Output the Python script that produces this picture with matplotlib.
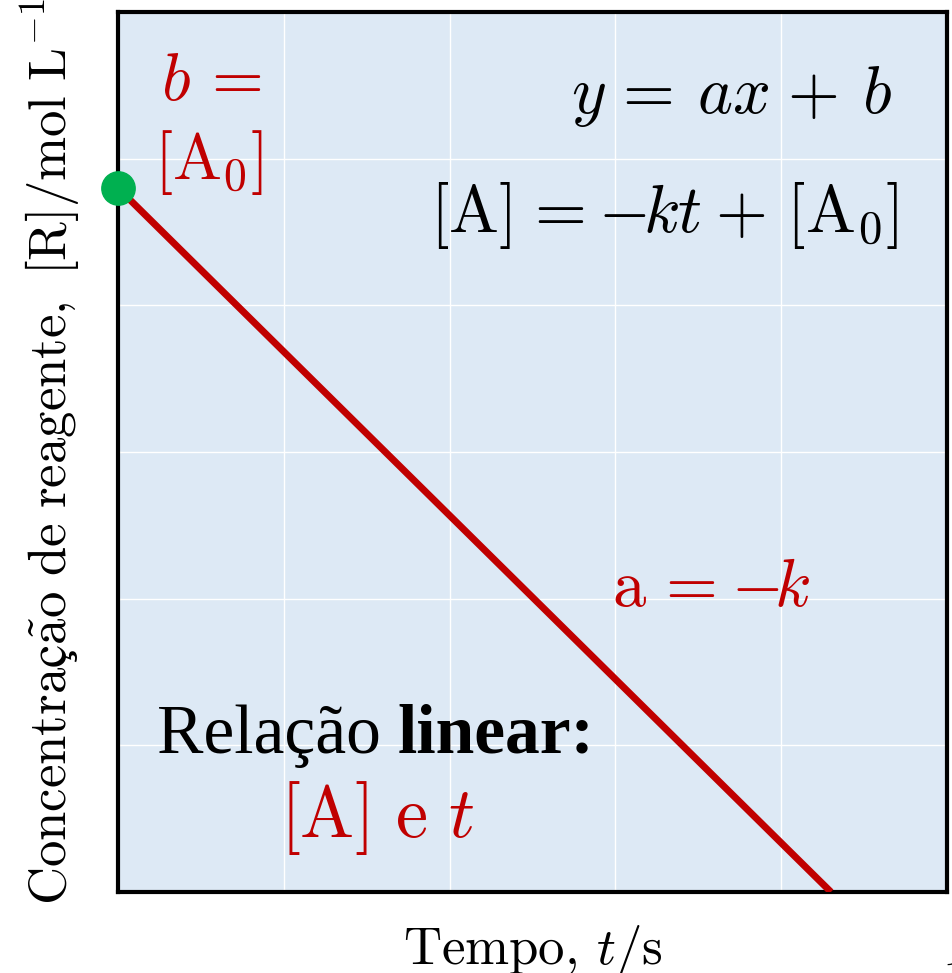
import matplotlib
matplotlib.use('Agg')
import matplotlib.pyplot as plt
import numpy as np

plt.rcParams['font.family'] = ['cmr10', 'STIXGeneral', 'DejaVu Serif']
plt.rcParams['mathtext.fontset'] = 'cm'
plt.rcParams['axes.unicode_minus'] = False

# concentration of reactant vs time, zero-order kinetics
t_vals = [0.0, 4.3]
conc_vals = [4.8, 0.0]
x_ticks = [0, 1, 2, 3, 4, 5]
y_ticks = [0, 1, 2, 3, 4, 5, 6]

red = '#C00000'
green = '#00B050'

fig = plt.figure(figsize=(9.53, 9.73), dpi=100)
ax = fig.add_axes([118 / 953, 1 - 892 / 973, 829 / 953, 880 / 973])
ax.set_facecolor('#DDE9F5')

ax.plot(t_vals, conc_vals, color=red, lw=5, solid_capstyle='butt', zorder=3)
ax.plot(t_vals[0], conc_vals[0], 'o', color=green, ms=24, clip_on=False, zorder=4)

ax.set_xlim(0, 5)
ax.set_ylim(0, 6)
ax.set_xticks(x_ticks)
ax.set_yticks(y_ticks)
ax.set_xticklabels([])
ax.set_yticklabels([])
ax.grid(True, color='white', lw=1)
ax.set_axisbelow(True)
ax.tick_params(color='white', length=5, width=1, direction='inout')
for sp in ax.spines.values():
    sp.set_linewidth(3)
    sp.set_color('black')

ax.set_xlabel(r'Tempo, $t/\mathrm{s}$', fontsize=38, labelpad=16)
ax.set_ylabel(r'$\mathrm{Concentraç\tilde{a}o\ de\ reagente,\ [R]/mol\ L^{-1}}$',
              fontsize=38, labelpad=20)

# equations, top right
eq_line = (r'$y\hspace{0.12}=\hspace{0.2}ax\hspace{0.085}+\hspace{0.2}b$')
eq_rate = (r'$[\mathrm{A}]\hspace{0.1}=\hspace{0.01}{-}\hspace{-0.12}kt'
           r'\hspace{0.025}+\hspace{0.135}[\mathrm{A}_0]$')
ax.text(0.5464, 0.885, eq_line, fontsize=48, ha='left', va='baseline',
        transform=ax.transAxes)
ax.text(0.3764, 0.750, eq_rate, fontsize=48, ha='left', va='baseline',
        transform=ax.transAxes)

# intercept and slope labels
ax.text(0.0519, 0.900, r'$b\, =$', fontsize=48, color=red, ha='left', va='baseline',
        transform=ax.transAxes)
ax.text(0.0434, 0.810, r'$[\mathrm{A}_0]$', fontsize=47, color=red, ha='left',
        va='baseline', transform=ax.transAxes)
ax.text(0.5958, 0.325, r'$\mathrm{a}\hspace{0.14}=\hspace{0.05}{-}\hspace{-0.15}k$',
        fontsize=48, color=red, ha='left', va='baseline', transform=ax.transAxes)

# relation note, bottom left
ax.text(0.047, 0.158, 'Relação ', fontsize=50, family='Liberation Serif',
        ha='left', va='baseline', transform=ax.transAxes)
ax.text(0.337, 0.158, 'linear:', fontsize=50, family='Liberation Serif',
        fontweight='bold', ha='left', va='baseline', transform=ax.transAxes)
ax.text(0.1954, 0.063, r'$[\mathrm{A}]\ \mathrm{e}\ t$', fontsize=52, color=red,
        ha='left', va='baseline', transform=ax.transAxes)

fig.text(0.99, -0.025, '1', fontsize=30, ha='left', va='bottom')

fig.savefig('out.png', dpi=100)
